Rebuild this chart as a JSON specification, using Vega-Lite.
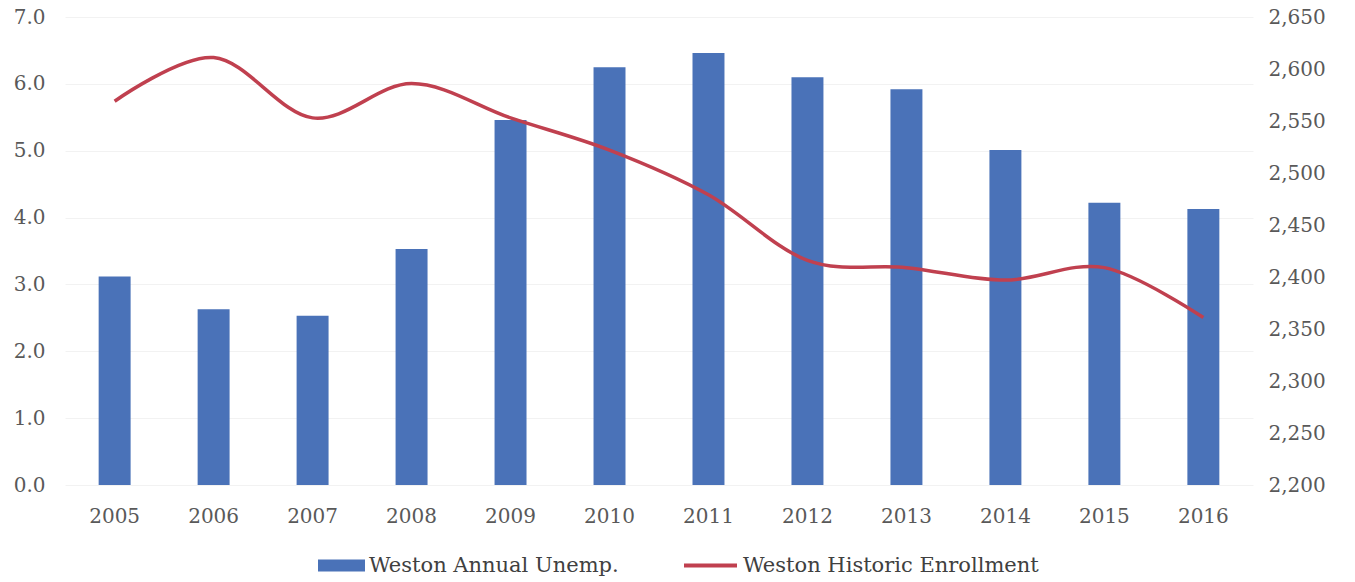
{
  "$schema": "https://vega.github.io/schema/vega-lite/v6.json",
  "width": 1188,
  "height": 468,
  "autosize": {"type": "none"},
  "padding": {"left": 65, "top": 17, "right": 102, "bottom": 97},
  "background": "white",
  "config": {
    "view": {"stroke": null},
    "font": "DejaVu Serif",
    "axis": {
      "labelFont": "DejaVu Serif",
      "labelFontSize": 20,
      "labelColor": "#595959",
      "domain": false,
      "ticks": false,
      "title": null
    },
    "legend": {
      "labelFont": "DejaVu Serif",
      "labelFontSize": 21,
      "labelColor": "#404040",
      "labelLimit": 0,
      "labelOffset": 4,
      "padding": 0
    }
  },
  "data": {
    "values": [
      {"year": "2005", "unemp": 3.12, "enroll": 2569},
      {"year": "2006", "unemp": 2.63, "enroll": 2611},
      {"year": "2007", "unemp": 2.53, "enroll": 2553},
      {"year": "2008", "unemp": 3.53, "enroll": 2586},
      {"year": "2009", "unemp": 5.46, "enroll": 2553},
      {"year": "2010", "unemp": 6.25, "enroll": 2522},
      {"year": "2011", "unemp": 6.46, "enroll": 2479},
      {"year": "2012", "unemp": 6.1, "enroll": 2416},
      {"year": "2013", "unemp": 5.92, "enroll": 2409},
      {"year": "2014", "unemp": 5.01, "enroll": 2397},
      {"year": "2015", "unemp": 4.22, "enroll": 2409},
      {"year": "2016", "unemp": 4.13, "enroll": 2361}
    ]
  },
  "encoding": {
    "x": {
      "field": "year",
      "type": "ordinal",
      "scale": {"paddingInner": 0.677, "paddingOuter": 0.34},
      "axis": {"labelAngle": 0, "labelPadding": 21, "grid": false}
    }
  },
  "layer": [
    {
      "mark": {"type": "bar", "color": "#4a72b8"},
      "encoding": {
        "y": {
          "field": "unemp",
          "type": "quantitative",
          "scale": {"domain": [0, 7]},
          "axis": {
            "orient": "left",
            "values": [0, 1, 2, 3, 4, 5, 6, 7],
            "format": ".1f",
            "labelPadding": 20,
            "grid": true,
            "gridColor": "#f2f2f2",
            "gridWidth": 1
          }
        },
        "fill": {
          "datum": "Weston Annual Unemp.",
          "scale": {"range": ["#4a72b8"]},
          "legend": {
            "orient": "none",
            "legendX": 253,
            "legendY": 525,
            "title": null,
            "symbolType": "M-1,-0.26H1V0.26H-1Z",
            "symbolSize": 2209,
            "symbolStrokeWidth": 0
          }
        }
      }
    },
    {
      "mark": {"type": "line", "interpolate": "cardinal", "strokeWidth": 3.5, "color": "#c0404f"},
      "encoding": {
        "y": {
          "field": "enroll",
          "type": "quantitative",
          "scale": {"domain": [2200, 2650]},
          "axis": {
            "orient": "right",
            "values": [2200, 2250, 2300, 2350, 2400, 2450, 2500, 2550, 2600, 2650],
            "format": ",d",
            "labelPadding": 15,
            "grid": false
          }
        },
        "stroke": {
          "datum": "Weston Historic Enrollment",
          "scale": {"range": ["#c0404f"]},
          "legend": {
            "orient": "none",
            "legendX": 617,
            "legendY": 520,
            "title": null,
            "symbolType": "stroke",
            "symbolSize": 2809,
            "symbolStrokeWidth": 4
          }
        }
      }
    }
  ],
  "resolve": {"scale": {"y": "independent"}}
}
